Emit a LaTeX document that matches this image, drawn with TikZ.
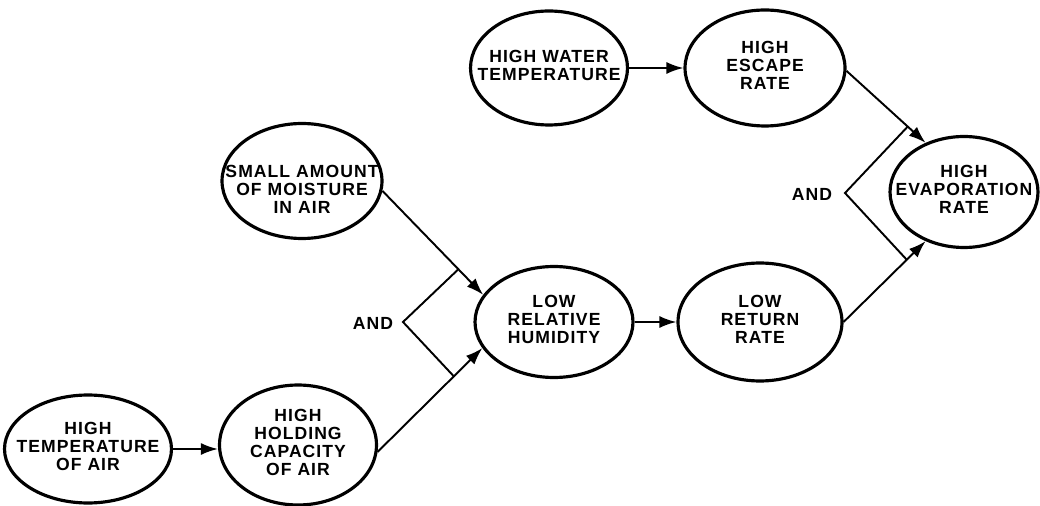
\documentclass[tikz,border=0pt]{standalone}
\usepackage{fontspec}
\setmainfont{Liberation Sans}[LetterSpace=6]
\usetikzlibrary{arrows.meta,calc,shapes.geometric}
\newcommand\ovaltext[2][0pt]{\smash{\makebox[0pt]{\raisebox{\dimexpr-2.5pt-#1\relax}{\begin{tabular}{@{}c@{}}#2\end{tabular}}}}}
\tikzset{
  oval/.style={draw,ellipse,line width=1.8pt,inner sep=0pt},
  conn/.style={line width=1.1pt},
  flow/.style={conn,-{Latex[length=3.4mm,width=2.4mm]}}
}

\begin{document}
\begin{tikzpicture}[x=.02cm,y=-.02cm,font=\bfseries\fontsize{10}{10.3}\selectfont]
\useasboundingbox (0,0) rectangle (1040,506);
% ovals
\node[oval,minimum width=3.34cm,minimum height=2.16cm] (hiT) at (88,449) {\ovaltext{HIGH\\TEMPERATURE\\OF AIR}};
\node[oval,minimum width=3.14cm,minimum height=2.4cm] (hold) at (298,445) {\ovaltext{HIGH\\HOLDING\\CAPACITY\\OF AIR}};
\node[oval,minimum width=3.2cm,minimum height=2.3cm] (small) at (302,181) {\ovaltext[6pt]{SMALL AMOUNT\\OF MOISTURE\\IN AIR}};
\node[oval,minimum width=3.16cm,minimum height=2.22cm] (lowRH) at (554,322) {\ovaltext{LOW\\RELATIVE\\HUMIDITY}};
\node[oval,minimum width=3.28cm,minimum height=2.36cm] (lowRet) at (760,322) {\ovaltext{LOW\\RETURN\\RATE}};
\node[oval,minimum width=3.14cm,minimum height=2.28cm] (water) at (549,68) {\ovaltext{HIGH WATER\\TEMPERATURE}};
\node[oval,minimum width=3.2cm,minimum height=2.32cm] (escape) at (765,68) {\ovaltext{HIGH\\ESCAPE\\RATE}};
\node[oval,minimum width=2.96cm,minimum height=2.22cm] (evap) at (964,192) {\ovaltext{HIGH\\EVAPORATION\\RATE}};
% straight arrows
\draw[flow] (hiT.east) -- (hiT.east -| hold.west);
\draw[flow] (water) -- (escape);
\draw[flow] (lowRH) -- (lowRet);
% left AND
\draw[flow] (small.-7) -- (lowRH.159);
\draw[flow] (hold.-5) -- (lowRH.200);
\coordinate (jC) at ($(small.-7)!.754!(lowRH.159)$);
\coordinate (jD) at ($(hold.-5)!.728!(lowRH.200)$);
\coordinate (vL) at (403,322);
\draw[conn] (jC) -- (vL) -- (jD);
\node (andL) at (373,323) {AND};
% right AND
\draw[flow] (escape.-2) -- (evap.128);
\draw[flow] (lowRet.east) -- (evap.232);
\coordinate (jA) at ($(escape.-2)!.774!(evap.128)$);
\coordinate (jB) at ($(lowRet.east)!.77!(evap.232)$);
\coordinate (vR) at (845,193);
\draw[conn] (jA) -- (vR) -- (jB);
\node (andR) at (812,194) {AND};
\end{tikzpicture}
\end{document}
